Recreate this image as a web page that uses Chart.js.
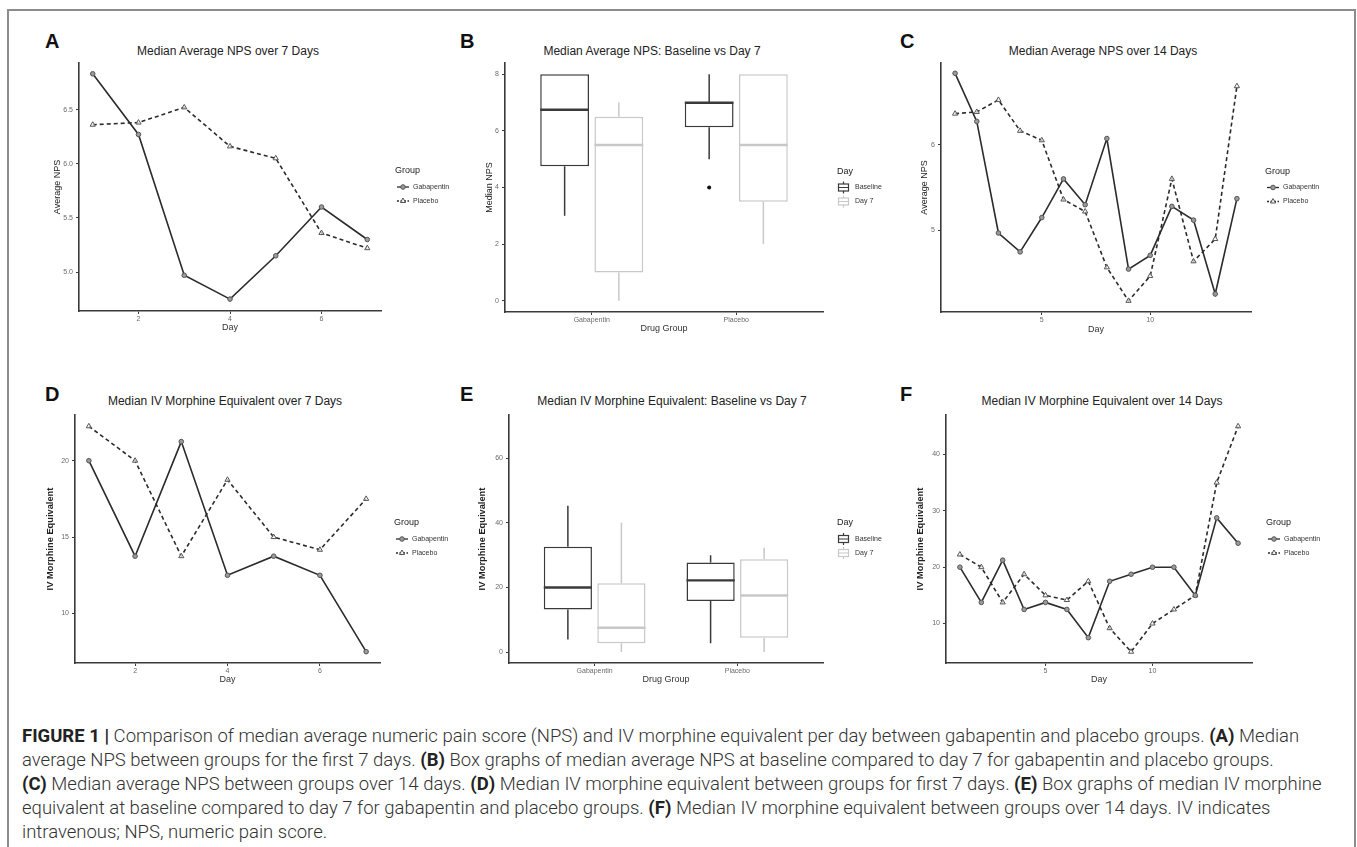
<!DOCTYPE html>
<html lang="en">
<head>
<meta charset="UTF-8">
<title>Figure 1 - Median NPS and IV morphine equivalent</title>
<script src="https://cdn.jsdelivr.net/npm/chart.js"></script>
<style>
  html, body { margin: 0; padding: 0; background: #fff; }
  body { width: 1357px; height: 847px; position: relative; overflow: hidden;
         font-family: "Liberation Sans", Arial, sans-serif; }
  #frame { position: absolute; left: 7px; top: 9px; width: 1345px; height: 900px;
           border: 2px solid #8c8c8c; border-bottom: none; }
  .letter { position: absolute; font-weight: bold; font-size: 20px; line-height: 1; color: #111; }
  .ptitle { position: absolute; font-size: 12px; line-height: 1; color: #222;
            white-space: nowrap; transform: translateX(-50%); }
  canvas { position: absolute; }
  #caption { position: absolute; left: 22px; top: 724px; font-family: Roboto, "Liberation Sans", sans-serif;
             font-weight: 300; font-size: 16px; line-height: 24px; color: #333; }
  #caption div { white-space: nowrap; }
  #caption b { font-weight: 700; color: #222; }
</style>
</head>
<body>
<div id="frame"></div>

<div class="letter" style="left:45px;top:31px">A</div>
<div class="letter" style="left:460px;top:31px">B</div>
<div class="letter" style="left:900px;top:31px">C</div>
<div class="letter" style="left:45px;top:384px">D</div>
<div class="letter" style="left:460px;top:384px">E</div>
<div class="letter" style="left:900px;top:384px">F</div>

<div class="ptitle" style="left:228px;top:45px">Median Average NPS over 7 Days</div>
<div class="ptitle" style="left:652px;top:45px">Median Average NPS: Baseline vs Day 7</div>
<div class="ptitle" style="left:1103px;top:45px">Median Average NPS over 14 Days</div>
<div class="ptitle" style="left:225px;top:395px">Median IV Morphine Equivalent over 7 Days</div>
<div class="ptitle" style="left:672px;top:395px">Median IV Morphine Equivalent: Baseline vs Day 7</div>
<div class="ptitle" style="left:1102px;top:395px">Median IV Morphine Equivalent over 14 Days</div>

<canvas id="chartA"></canvas>
<canvas id="chartB"></canvas>
<canvas id="chartC"></canvas>
<canvas id="chartD"></canvas>
<canvas id="chartE"></canvas>
<canvas id="chartF"></canvas>

<div id="caption">
  <div><b>FIGURE 1 |</b> Comparison of median average numeric pain score (NPS) and IV morphine equivalent per day between gabapentin and placebo groups. <b>(A)</b> Median</div>
  <div>average NPS between groups for the first 7 days. <b>(B)</b> Box graphs of median average NPS at baseline compared to day 7 for gabapentin and placebo groups.</div>
  <div><b>(C)</b> Median average NPS between groups over 14 days. <b>(D)</b> Median IV morphine equivalent between groups for first 7 days. <b>(E)</b> Box graphs of median IV morphine</div>
  <div>equivalent at baseline compared to day 7 for gabapentin and placebo groups. <b>(F)</b> Median IV morphine equivalent between groups over 14 days. IV indicates</div>
  <div>intravenous; NPS, numeric pain score.</div>
</div>

<script>
// ---- data ----
const days = [1, 2, 3, 4, 5, 6, 7, 8, 9, 10, 11, 12, 13, 14];
const npsGabapentin = [6.83, 6.27, 4.97, 4.75, 5.15, 5.60, 5.30, 6.07, 4.55, 4.71, 5.28, 5.12, 4.26, 5.37];
const npsPlacebo    = [6.36, 6.38, 6.52, 6.16, 6.05, 5.36, 5.22, 4.57, 4.18, 4.47, 5.60, 4.64, 4.90, 6.68];
const morphGabapentin = [20, 13.75, 21.25, 12.5, 13.75, 12.5, 7.5, 17.5, 18.75, 20, 20, 15, 28.75, 24.25];
const morphPlacebo    = [22.25, 20, 13.75, 18.75, 15, 14.17, 17.5, 9.17, 5, 10, 12.5, 15, 35, 45];

const drugGroups = ['Gabapentin', 'Placebo'];
// box stats: [lower whisker, Q1, median, Q3, upper whisker]
const npsBaseline = [[3, 4.75, 6.75, 8, 8], [5, 6.13, 7, 7, 8]];
const npsDay7     = [[0, 1, 5.5, 6.5, 7], [2, 3.5, 5.5, 8, 8]];
const npsBaselineOutliers = [[], [4]];
const npsDay7Outliers     = [[], []];
const morphBaseline = [[3.9, 13.2, 20, 32.6, 45.3], [2.7, 15.8, 22.2, 27.7, 30]];
const morphDay7     = [[0, 2.7, 7.5, 21.3, 40], [0, 4.4, 17.5, 28.7, 32.3]];
const morphBaselineOutliers = [[], []];
const morphDay7Outliers     = [[], []];

// tick values
const ticksDay7 = [2, 4, 6];
const ticksDay14 = [5, 10];
const ticksNps7 = [5.0, 5.5, 6.0, 6.5];
const ticksNps14 = [5, 6];
const ticksNpsBox = [0, 2, 4, 6, 8];
const ticksMorph7 = [10, 15, 20];
const ticksMorph14 = [10, 20, 30, 40];
const ticksMorphBox = [0, 20, 40, 60];

// axis limits (ggplot style 5% expansion)
const rangeDay7 = [0.7, 7.3];
const rangeDay14 = [0.35, 14.65];
const rangeGroups = [0.4, 2.6];
const rangeNps7 = [4.64, 6.93];
const rangeNps14 = [4.05, 6.95];
const rangeNpsBox = [-0.4, 8.4];
const rangeMorph7 = [6.76, 22.99];
const rangeMorph14 = [3, 47];
const rangeMorphBox = [-3.4, 73.4];

// ---- layout ----
const FONT = '"Liberation Sans", Arial, Helvetica, sans-serif';
const AXIS_COLOR = '#3a3a3a';
const TICK_COLOR = '#6a6a6a';
const LINE_COLOR = '#2b2b2b';
const BASE_COLOR = '#3a3a3a';
const DAY7_COLOR = '#c8c8c8';
const WY = 34, HX = 26;                         // fixed axis sizes
const PAD_L = 60, PAD_T = 12, PAD_R = 105, PAD_B = 32;

// plot areas in page pixels + axis title centres
const panels = {
  A: { area: { l: 79, r: 381, t: 63, b: 311 }, yTitleX: 57.5, xTitleY: 327.5 },
  B: { area: { l: 505, r: 823, t: 63, b: 312 }, yTitleX: 489.5, xTitleY: 329 },
  C: { area: { l: 941, r: 1251, t: 63, b: 312 }, yTitleX: 925, xTitleY: 329.5 },
  D: { area: { l: 75, r: 380, t: 415, b: 663 }, yTitleX: 50, xTitleY: 680 },
  E: { area: { l: 509, r: 823, t: 415, b: 663 }, yTitleX: 482.7, xTitleY: 680 },
  F: { area: { l: 946, r: 1252, t: 415, b: 663 }, yTitleX: 920.3, xTitleY: 680 }
};

function placeCanvas(id, spec) {
  const c = document.getElementById(id);
  const w = spec.area.r - spec.area.l + PAD_L + PAD_R;
  const h = spec.area.b - spec.area.t + PAD_T + PAD_B;
  c.style.left = (spec.area.l - PAD_L) + 'px';
  c.style.top = (spec.area.t - PAD_T) + 'px';
  c.style.width = w + 'px';
  c.style.height = h + 'px';
  c.width = w;
  c.height = h;
  return c;
}

function xScale(spec, range, tickVals, fmt, title) {
  const lh = 9 * 1.2;
  return {
    type: 'linear', min: range[0], max: range[1], offset: false,
    afterBuildTicks: s => { s.ticks = tickVals.map(v => ({ value: v })); },
    afterFit: s => { s.height = HX; },
    grid: { drawOnChartArea: false, drawTicks: true, tickLength: 3, tickColor: AXIS_COLOR, offset: false },
    border: { display: true, color: AXIS_COLOR, width: 1.6 },
    ticks: { font: { family: FONT, size: 7 }, color: TICK_COLOR, padding: 1, maxRotation: 0, autoSkip: false, callback: fmt },
    title: { display: true, text: title, color: '#333', font: { family: FONT, size: 9 },
             padding: { top: 0, bottom: (spec.area.b + HX) - spec.xTitleY - lh / 2 } }
  };
}

function yScale(spec, range, tickVals, fmt, title, bold) {
  const size = bold ? 9.3 : 9;
  const lh = size * 1.2;
  return {
    type: 'linear', min: range[0], max: range[1],
    afterBuildTicks: s => { s.ticks = tickVals.map(v => ({ value: v })); },
    afterFit: s => { s.width = WY; },
    grid: { drawOnChartArea: false, drawTicks: true, tickLength: 3, tickColor: AXIS_COLOR },
    border: { display: true, color: AXIS_COLOR, width: 1.6 },
    ticks: { font: { family: FONT, size: 7 }, color: TICK_COLOR, padding: 3, callback: fmt },
    title: { display: true, text: title, color: '#222', font: { family: FONT, size: size, weight: bold ? 'bold' : 'normal' },
             padding: { top: spec.yTitleX - (spec.area.l - WY) - lh / 2, bottom: 0 } }
  };
}

function drawMarker(ctx, style, x, y, r, fill, stroke) {
  ctx.beginPath();
  if (style === 'triangle') {
    ctx.moveTo(x, y - r);
    ctx.lineTo(x + r * 0.866, y + r * 0.5);
    ctx.lineTo(x - r * 0.866, y + r * 0.5);
    ctx.closePath();
  } else {
    ctx.arc(x, y, r, 0, Math.PI * 2);
  }
  ctx.fillStyle = fill;
  ctx.fill();
  ctx.lineWidth = 1;
  ctx.strokeStyle = stroke;
  ctx.stroke();
}

// ggplot-like legend at the right of the panel
const ggLegend = {
  id: 'ggLegend',
  afterDraw(chart, args, opts) {
    const { ctx, chartArea } = chart;
    const cy = (chartArea.top + chartArea.bottom) / 2;
    const x0 = chartArea.right + 14;
    ctx.save();
    ctx.textBaseline = 'middle';
    ctx.textAlign = 'left';
    ctx.fillStyle = '#222';
    ctx.font = '9px ' + FONT;
    ctx.fillText(opts.title, x0, cy - 16);
    chart.data.datasets.forEach((ds, i) => {
      const yy = cy + i * 14;
      if (opts.kind === 'box') {
        ctx.strokeStyle = ds.borderColor;
        ctx.lineWidth = 1.2;
        ctx.strokeRect(x0 + 1.5, yy - 3.5, 10, 7);
        ctx.beginPath();
        ctx.moveTo(x0 + 6.5, yy - 3.5); ctx.lineTo(x0 + 6.5, yy - 6);
        ctx.moveTo(x0 + 6.5, yy + 3.5); ctx.lineTo(x0 + 6.5, yy + 6);
        ctx.moveTo(x0 + 1.5, yy); ctx.lineTo(x0 + 11.5, yy);
        ctx.stroke();
      } else {
        ctx.strokeStyle = ds.borderColor;
        ctx.lineWidth = 1.3;
        ctx.setLineDash(ds.borderDash ? [2, 1.5] : []);
        ctx.beginPath();
        ctx.moveTo(x0 + 2, yy); ctx.lineTo(x0 + 14, yy);
        ctx.stroke();
        ctx.setLineDash([]);
        drawMarker(ctx, ds.pointStyle, x0 + 8, yy, ds.pointRadius, ds.pointBackgroundColor, ds.pointBorderColor);
      }
      ctx.fillStyle = '#333';
      ctx.font = '7px ' + FONT;
      ctx.fillText(ds.label, x0 + 18, yy);
    });
    ctx.restore();
  }
};

// whiskers, medians and outliers on top of the floating bars
const boxWhiskers = {
  id: 'boxWhiskers',
  afterDatasetsDraw(chart) {
    const { ctx } = chart;
    const y = chart.scales.y;
    chart.data.datasets.forEach((ds, di) => {
      const meta = chart.getDatasetMeta(di);
      meta.data.forEach((bar, j) => {
        const { x, width } = bar.getProps(['x', 'width'], true);
        const [lo, q1, med, q3, hi] = ds.stats[j];
        ctx.save();
        ctx.strokeStyle = ds.borderColor;
        ctx.lineWidth = 1.5;
        ctx.beginPath();
        ctx.moveTo(x, y.getPixelForValue(q3)); ctx.lineTo(x, y.getPixelForValue(hi));
        ctx.moveTo(x, y.getPixelForValue(q1)); ctx.lineTo(x, y.getPixelForValue(lo));
        ctx.stroke();
        ctx.lineWidth = 2.4;
        ctx.beginPath();
        ctx.moveTo(x - width / 2, y.getPixelForValue(med));
        ctx.lineTo(x + width / 2, y.getPixelForValue(med));
        ctx.stroke();
        ctx.fillStyle = ds.borderColor === BASE_COLOR ? '#111' : ds.borderColor;
        (ds.outliers[j] || []).forEach(v => {
          ctx.beginPath();
          ctx.arc(x, y.getPixelForValue(v), 2, 0, Math.PI * 2);
          ctx.fill();
        });
        ctx.restore();
      });
    });
  }
};

function lineChart(id, spec, n, gaba, placebo, xRange, xTicks, yRange, yTicks, yFmt, yTitle, yBold) {
  const canvas = placeCanvas(id, spec);
  const xs = days.slice(0, n);
  return new Chart(canvas, {
    type: 'line',
    data: {
      datasets: [
        { label: 'Gabapentin', data: xs.map((d, i) => ({ x: d, y: gaba[i] })),
          borderColor: LINE_COLOR, borderWidth: 1.6, tension: 0,
          pointStyle: 'circle', pointRadius: 2.3, pointBackgroundColor: '#9a9a9a',
          pointBorderColor: '#555', pointBorderWidth: 1 },
        { label: 'Placebo', data: xs.map((d, i) => ({ x: d, y: placebo[i] })),
          borderColor: LINE_COLOR, borderWidth: 1.6, borderDash: [4, 3], tension: 0,
          pointStyle: 'triangle', pointRadius: 3, pointBackgroundColor: 'rgba(255,255,255,0.7)',
          pointBorderColor: '#555', pointBorderWidth: 1 }
      ]
    },
    options: {
      responsive: false, animation: false, devicePixelRatio: 1,
      layout: { padding: { left: PAD_L - WY, top: PAD_T, right: PAD_R, bottom: PAD_B - HX } },
      plugins: { legend: { display: false }, tooltip: { enabled: false }, ggLegend: { title: 'Group', kind: 'line' } },
      scales: {
        x: xScale(spec, xRange, xTicks, v => String(v), 'Day'),
        y: yScale(spec, yRange, yTicks, yFmt, yTitle, yBold)
      }
    },
    plugins: [ggLegend]
  });
}

function boxChart(id, spec, baseline, day7, baseOut, day7Out, yRange, yTicks, yTitle, yBold) {
  const canvas = placeCanvas(id, spec);
  const boxSet = (label, stats, outliers, color) => ({
    label: label, stats: stats, outliers: outliers,
    data: stats.map((s, i) => ({ x: i + 1, y: [s[1], s[3]] })),
    backgroundColor: '#fff', borderColor: color, borderWidth: 1.5, borderSkipped: false,
    categoryPercentage: 0.75, barPercentage: 0.9
  });
  return new Chart(canvas, {
    type: 'bar',
    data: {
      datasets: [
        boxSet('Baseline', baseline, baseOut, BASE_COLOR),
        boxSet('Day 7', day7, day7Out, DAY7_COLOR)
      ]
    },
    options: {
      responsive: false, animation: false, devicePixelRatio: 1,
      layout: { padding: { left: PAD_L - WY, top: PAD_T, right: PAD_R, bottom: PAD_B - HX } },
      plugins: { legend: { display: false }, tooltip: { enabled: false }, ggLegend: { title: 'Day', kind: 'box' } },
      scales: {
        x: xScale(spec, rangeGroups, [1, 2], v => drugGroups[v - 1], 'Drug Group'),
        y: yScale(spec, yRange, yTicks, v => String(v), yTitle, yBold)
      }
    },
    plugins: [boxWhiskers, ggLegend]
  });
}

lineChart('chartA', panels.A, 7, npsGabapentin, npsPlacebo, rangeDay7, ticksDay7,
          rangeNps7, ticksNps7, v => v.toFixed(1), 'Average NPS', false);
boxChart('chartB', panels.B, npsBaseline, npsDay7, npsBaselineOutliers, npsDay7Outliers,
         rangeNpsBox, ticksNpsBox, 'Median NPS', false);
lineChart('chartC', panels.C, 14, npsGabapentin, npsPlacebo, rangeDay14, ticksDay14,
          rangeNps14, ticksNps14, v => String(v), 'Average NPS', false);
lineChart('chartD', panels.D, 7, morphGabapentin, morphPlacebo, rangeDay7, ticksDay7,
          rangeMorph7, ticksMorph7, v => String(v), 'IV Morphine Equivalent', true);
boxChart('chartE', panels.E, morphBaseline, morphDay7, morphBaselineOutliers, morphDay7Outliers,
         rangeMorphBox, ticksMorphBox, 'IV Morphine Equivalent', true);
lineChart('chartF', panels.F, 14, morphGabapentin, morphPlacebo, rangeDay14, ticksDay14,
          rangeMorph14, ticksMorph14, v => String(v), 'IV Morphine Equivalent', true);

// stretch caption so the first line spans the same width as in the figure
const cap = document.getElementById('caption');
const firstLine = cap.firstElementChild;
const natural = firstLine.getBoundingClientRect().width;
cap.style.fontSize = (16 * 1300 / natural) + 'px';
</script>
</body>
</html>
